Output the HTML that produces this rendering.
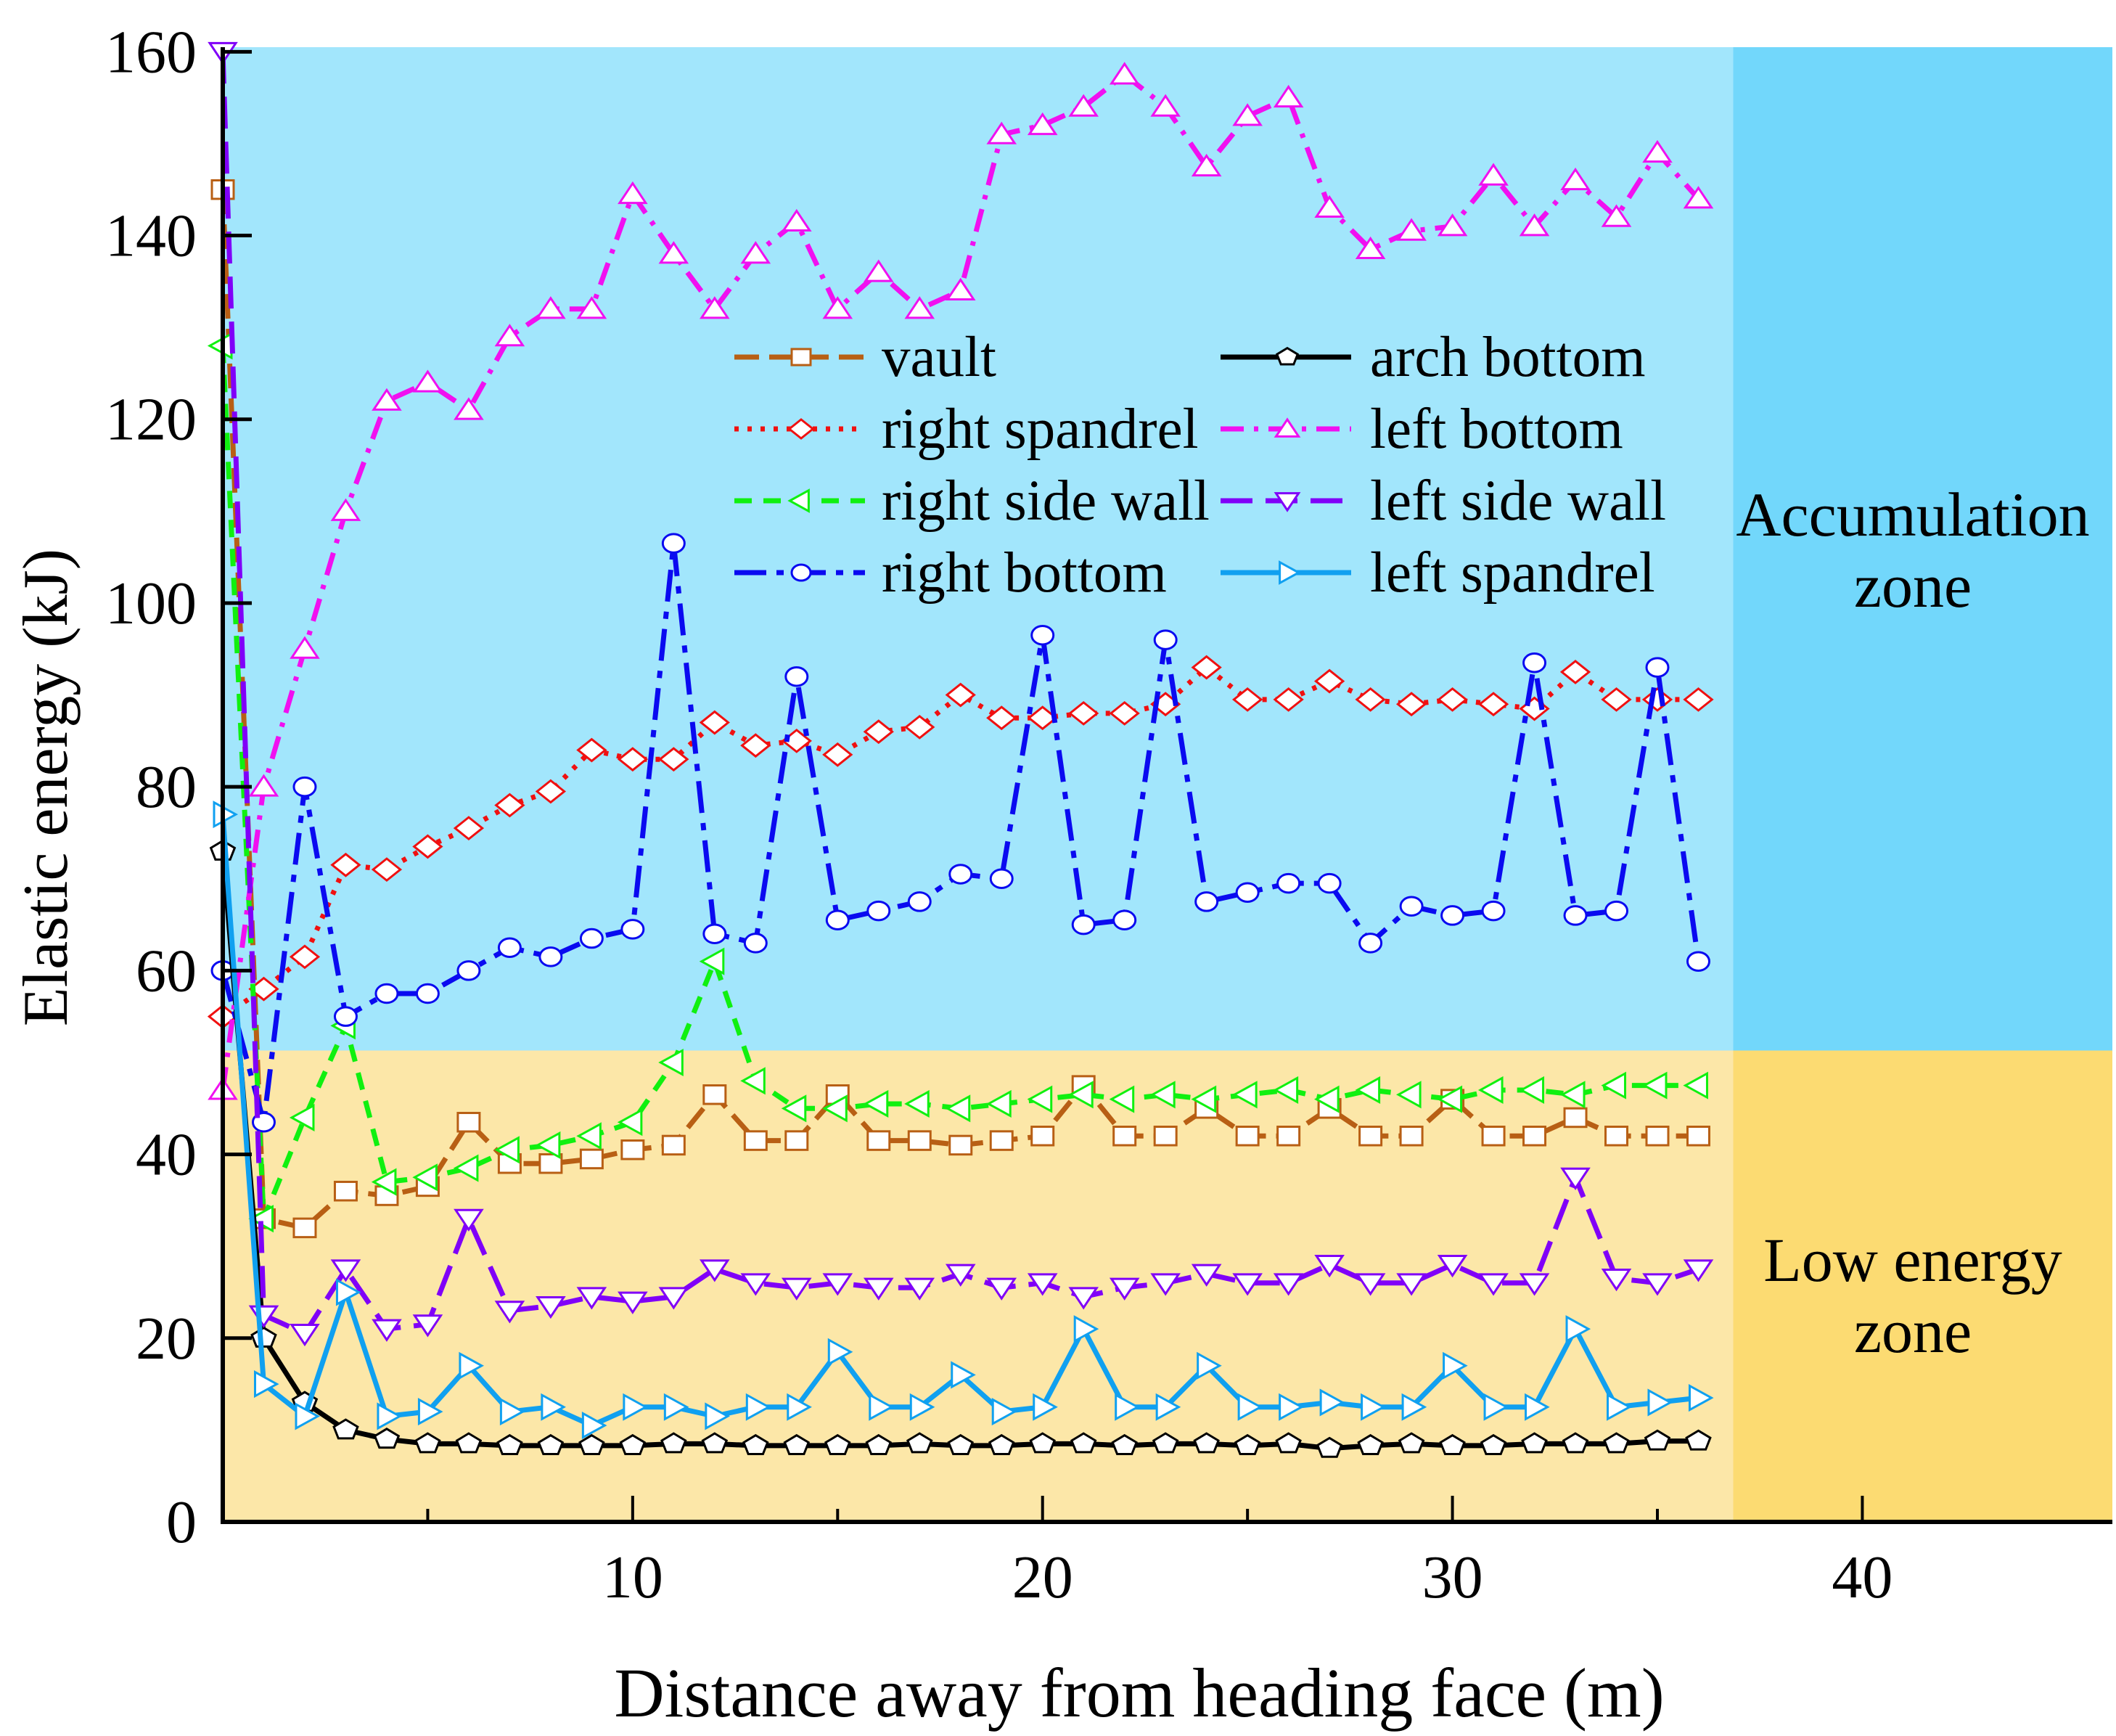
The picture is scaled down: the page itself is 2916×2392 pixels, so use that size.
<!DOCTYPE html>
<html><head><meta charset="utf-8"><style>
html,body{margin:0;padding:0;background:#fff;}
svg{display:block;font-family:"Liberation Serif",serif;}
</style></head><body>
<svg id="chart" width="2916" height="2392" viewBox="0 0 2916 2392" xmlns="http://www.w3.org/2000/svg"></svg>
<script>
const xValues = [0,1,2,3,4,5,6,7,8,9,10,11,12,13,14,15,16,17,18,19,20,21,22,23,24,25,26,27,28,29,30,31,32,33,34,35,36];
const vault = [145,33,32,36,35.5,36.5,43.5,39,39,39.5,40.5,41,46.5,41.5,41.5,46.5,41.5,41.5,41,41.5,42,47.5,42,42,45,42,42,45,42,42,46,42,42,44,42,42,42];
const rightSpandrel = [55,58,61.5,71.5,71,73.5,75.5,78,79.5,84,83,83,87,84.5,85,83.5,86,86.5,90,87.5,87.5,88,88,89,93,89.5,89.5,91.5,89.5,89,89.5,89,88.5,92.5,89.5,89.5,89.5];
const rightSideWall = [128,33,44,54,37,37.5,38.5,40.5,41,42,43.5,50,61,48,45,45,45.5,45.5,45,45.5,46,46.5,46,46.5,46,46.5,47,46,47,46.5,46,47,47,46.5,47.5,47.5,47.5];
const rightBottom = [60,43.5,80,55,57.5,57.5,60,62.5,61.5,63.5,64.5,106.5,64,63,92,65.5,66.5,67.5,70.5,70,96.5,65,65.5,96,67.5,68.5,69.5,69.5,63,67,66,66.5,93.5,66,66.5,93,61];
const archBottom = [73,20,13,10,9,8.5,8.5,8.3,8.3,8.3,8.3,8.5,8.5,8.3,8.3,8.3,8.3,8.5,8.3,8.3,8.5,8.5,8.3,8.5,8.5,8.3,8.5,8,8.3,8.5,8.3,8.3,8.5,8.5,8.5,8.8,8.8];
const leftBottom = [47,80,95,110,122,124,121,129,132,132,144.5,138,132,138,141.5,132,136,132,134,151,152,154,157.5,154,147.5,153,155,143,138.5,140.5,141,146.5,141,146,142,149,144];
const leftSideWall = [160,22.5,20.5,27.5,21,21.5,33,23,23.5,24.5,24,24.5,27.5,26,25.5,26,25.5,25.5,27,25.5,26,24.5,25.5,26,27,26,26,28,26,26,28,26,26,37.5,26.5,26,27.5];
const leftSpandrel = [77,15,11.5,25,11.5,12,17,12,12.5,10.5,12.5,12.5,11.5,12.5,12.5,18.5,12.5,12.5,16,12,12.5,21,12.5,12.5,17,12.5,12.5,13,12.5,12.5,17,12.5,12.5,21,12.5,13,13.5];
const xTicks = [10,20,30,40];
const xMinor = [5,15,25,35];
const yTicks = [0,20,40,60,80,100,120,140,160];
const zoneSplitY = 51.3;
const zoneSplitX = 36.85;

const NS="http://www.w3.org/2000/svg";
const svg=document.getElementById('chart');
const L=307,R=2911,T=65,B=2097;
const XMAX=46.1, YMAX=160.5;
const sx=v=>L+v*(R-L)/XMAX;
const sy=v=>B-v*(B-T)/YMAX;
function mk(tag,attrs,parent){const e=document.createElementNS(NS,tag);for(const k in attrs)e.setAttribute(k,attrs[k]);(parent||svg).appendChild(e);return e;}

let z;
z=mk('rect',{x:L,y:T,width:sx(zoneSplitX)-L,height:sy(zoneSplitY)-T,fill:'#A2E6FC'});

z=mk('rect',{x:sx(zoneSplitX),y:T,width:R-sx(zoneSplitX),height:sy(zoneSplitY)-T,fill:'#72D7FB'});

z=mk('rect',{x:L,y:sy(zoneSplitY),width:sx(zoneSplitX)-L,height:B-sy(zoneSplitY),fill:'#FCE7A8'});

z=mk('rect',{x:sx(zoneSplitX),y:sy(zoneSplitY),width:R-sx(zoneSplitX),height:B-sy(zoneSplitY),fill:'#FCDB72'});


function txt(s,x,y,size,anchor,name){const t=mk('text',{x:x,y:y,'font-size':size,'text-anchor':anchor||'middle',fill:'#000'});t.textContent=s;return t;}
txt('Accumulation',2636,738,86,'middle','accumulation-zone-label');
txt('zone',2636,836,86,'middle','accumulation-zone-label-2');
txt('Low energy',2636,1765,86,'middle','low-energy-zone-label');
txt('zone',2636,1863,86,'middle','low-energy-zone-label-2');

function marker(type,x,y,color,g,s){
  s=s||15;let e;
  const pts=a=>a.map(p=>(x+p[0])+','+(y+p[1])).join(' ');
  const base={fill:'#fff',stroke:color,'stroke-width':3};
  if(type==='square')e=mk('rect',Object.assign({x:x-s,y:y-s*0.85,width:2*s,height:1.7*s},base),g);
  else if(type==='circle')e=mk('ellipse',Object.assign({cx:x,cy:y,rx:s,ry:s*0.85},base),g);
  else if(type==='diamond')e=mk('polygon',Object.assign({points:pts([[0,-s],[s*1.25,0],[0,s],[-s*1.25,0]])},base),g);
  else if(type==='up')e=mk('polygon',Object.assign({points:pts([[0,-s],[s*1.2,s*0.8],[-s*1.2,s*0.8]])},base),g);
  else if(type==='down')e=mk('polygon',Object.assign({points:pts([[0,s],[s*1.2,-s*0.8],[-s*1.2,-s*0.8]])},base),g);
  else if(type==='left')e=mk('polygon',Object.assign({points:pts([[-s*1.2,0],[s*0.8,-s*1.1],[s*0.8,s*1.1]])},base),g);
  else if(type==='right')e=mk('polygon',Object.assign({points:pts([[s*1.2,0],[-s*0.8,-s*1.1],[-s*0.8,s*1.1]])},base),g);
  else if(type==='pentagon'){const a=[];for(let i=0;i<5;i++){const t=-Math.PI/2+i*2*Math.PI/5;a.push([s*1.15*Math.cos(t),s*0.95*Math.sin(t)]);}e=mk('polygon',Object.assign({points:pts(a)},base),g);}
  return e;
}

const series=[
 {name:'vault',data:vault,color:'#B85F14',dash:'34,14',m:'square'},
 {name:'right-spandrel',data:rightSpandrel,color:'#F01010',dash:'6,12',m:'diamond'},
 {name:'right-side-wall',data:rightSideWall,color:'#10F010',dash:'24,16',m:'left'},
 {name:'right-bottom',data:rightBottom,color:'#0A0AF0',dash:'44,14,10,14',m:'circle'},
 {name:'arch-bottom',data:archBottom,color:'#000',dash:'',m:'pentagon'},
 {name:'left-bottom',data:leftBottom,color:'#F010F0',dash:'32,14,6,14',m:'up'},
 {name:'left-side-wall',data:leftSideWall,color:'#8000F8',dash:'44,18',m:'down'},
 {name:'left-spandrel',data:leftSpandrel,color:'#10A0F0',dash:'',m:'right'}
];
series.forEach(s=>{
  const g=mk('g',{});
  
  
  const d=s.data.map((v,i)=>(i?'L':'M')+sx(xValues[i]).toFixed(1)+','+sy(v).toFixed(1)).join(' ');
  const p=mk('path',{d:d,fill:'none',stroke:s.color,'stroke-width':7,'stroke-dasharray':s.dash},g);
  
  
  s.data.forEach((v,i)=>{
    const m=marker(s.m,sx(xValues[i]),sy(v),s.color,g);
    
    
  });
});

let a=mk('line',{x1:L,y1:T,x2:L,y2:B+3,stroke:'#000','stroke-width':6});

a=mk('line',{x1:L-3,y1:B,x2:R,y2:B,stroke:'#000','stroke-width':6});

yTicks.forEach(v=>{
  const t=mk('line',{x1:L,y1:sy(v),x2:L+40,y2:sy(v),stroke:'#000','stroke-width':5});
  
  txt(String(v),L-36,sy(v)+28,84,'end','y-tick-label');
});
xTicks.forEach(v=>{
  const t=mk('line',{x1:sx(v),y1:B,x2:sx(v),y2:B-36,stroke:'#000','stroke-width':4});
  
  txt(String(v),sx(v),B+104,84,'middle','x-tick-label');
});
xMinor.forEach(v=>{
  const t=mk('line',{x1:sx(v),y1:B,x2:sx(v),y2:B-18,stroke:'#000','stroke-width':4});
  
});
txt('Distance away from heading face (m)',1570,2365,96,'middle','x-axis-title');
const yt=txt('Elastic energy  (kJ)',0,0,88,'middle','y-axis-title');
yt.setAttribute('transform','translate(92,1085) rotate(-90)');
yt.setAttribute('xml:space','preserve');

const leg=mk('g',{});


const cols=[[1012,1215],[1682,1888]];
const rows=[492,591,690,789];
const order=[[0,0,0],[1,0,1],[2,0,2],[3,0,3],[4,1,0],[5,1,1],[6,1,2],[7,1,3]];
order.forEach(o=>{
  const s=series[o[0]],c=cols[o[1]],y=rows[o[2]];
  const ge=mk('g',{},leg);
  
  
  mk('line',{x1:c[0],y1:y,x2:c[0]+180,y2:y,stroke:s.color,'stroke-width':7,'stroke-dasharray':s.dash},ge);
  marker(s.m,c[0]+92,y,s.color,ge,13);
  const t=mk('text',{x:c[1],y:y+26,'font-size':79,fill:'#000'},ge);
  t.textContent=s.name.replace(/-/g,' ');
});
</script>
</body></html>
